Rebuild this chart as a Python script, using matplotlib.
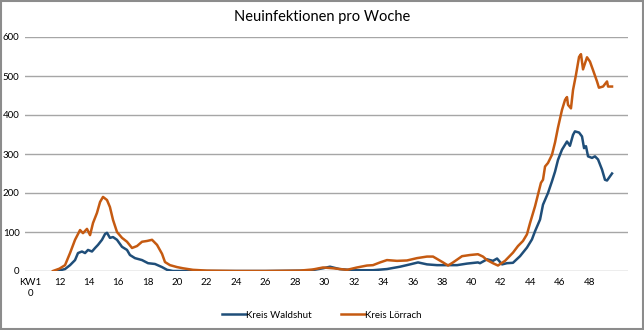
import numpy as np
import matplotlib
matplotlib.use("Agg")
import matplotlib.pyplot as plt
from matplotlib.patches import Rectangle

plt.rcParams["font.family"] = ["Lato", "DejaVu Sans"]

# calendar week positions and weekly new infections
kw_loerrach = [11.56, 12.0, 12.38, 12.72, 13.06, 13.40, 13.60, 13.87, 14.08, 14.28,
               14.55, 14.76, 14.96, 15.23, 15.43, 15.64, 15.91, 16.25, 16.59, 16.93,
               17.27, 17.61, 17.95, 18.29, 18.63, 18.97, 19.17, 19.51, 19.99, 20.39,
               21.07, 22.02, 24.0, 26.0, 28.34, 29.23, 29.9, 30.58, 31.54, 32.21,
               32.89, 33.3, 33.78, 34.25, 34.93, 35.61, 36.29, 36.97, 37.38, 38.06,
               38.4, 38.74, 39.35, 39.89, 40.43, 40.77, 41.05, 41.45, 41.79, 42.27,
               42.81, 43.15, 43.49, 43.76, 43.97, 44.31, 44.51, 44.71, 44.85, 44.99,
               45.19, 45.46, 45.67, 45.87, 46.14, 46.35, 46.48, 46.55, 46.75, 46.89,
               47.09, 47.3, 47.43, 47.57, 47.7, 47.84, 48.04, 48.25, 48.52, 48.65,
               48.93, 49.2, 49.27, 49.54]
loerrach = [0, 6, 15, 46, 80, 105, 97, 108, 92, 123,
            149, 177, 190, 182, 164, 131, 100, 85, 75, 59,
            64, 75, 77, 80, 67, 44, 23, 15, 10, 7,
            3, 1, 0, 0, 1, 4, 9, 7, 3, 9,
            14, 15, 22, 28, 26, 27, 33, 37, 37, 22,
            14, 22, 38, 41, 43, 37, 28, 20, 14, 26,
            47, 64, 77, 94, 123, 166, 196, 226, 234, 268,
            277, 298, 330, 368, 413, 439, 446, 426, 417, 464,
            503, 549, 556, 517, 532, 548, 537, 515, 486, 470,
            473, 486, 473, 473]

kw_waldshut = [11.83, 12.38, 12.72, 13.06, 13.26, 13.53, 13.74, 13.94, 14.21, 14.42,
               14.62, 14.89, 15.1, 15.23, 15.43, 15.64, 15.91, 16.25, 16.59, 16.79,
               17.13, 17.61, 18.02, 18.49, 18.97, 19.31, 19.71, 22.0, 26.0, 29.0,
               29.9, 30.38, 31.02, 31.94, 33.3, 34.25, 35.14, 35.82, 36.36, 36.97,
               37.65, 38.33, 39.01, 39.69, 40.43, 40.57, 41.05, 41.45, 41.73, 42.07,
               42.4, 42.81, 43.29, 43.76, 44.1, 44.31, 44.65, 44.85, 45.19, 45.46,
               45.67, 45.87, 46.14, 46.48, 46.68, 46.89, 47.02, 47.3, 47.5, 47.64,
               47.77, 47.91, 48.18, 48.38, 48.59, 48.86, 49.06, 49.2, 49.54]
waldshut = [0, 5, 15, 28, 46, 50, 46, 54, 50, 59,
            67, 80, 95, 98, 85, 87, 80, 62, 54, 41,
            33, 28, 20, 18, 10, 3, 0, 0, 0, 1,
            7, 11, 5, 2, 2, 5, 11, 17, 22, 17,
            15, 15, 15, 19, 22, 20, 30, 26, 32, 17,
            20, 21, 38, 60, 81, 102, 132, 170, 200, 230,
            255, 285, 311, 332, 321, 349, 358, 355, 345, 315,
            320, 294, 290, 294, 286, 260, 234, 232, 250]

kw_ticks = list(range(10, 49, 2))
kw_labels = ["KW1\n0"] + [str(k) for k in kw_ticks[1:]]

blue = "#1f4e79"
orange = "#c55a11"

fig = plt.figure(figsize=(6.44, 3.30), dpi=100)
ax = fig.add_axes([25 / 644, 1 - 271 / 330, 603 / 644, 234 / 330])

ax.plot(kw_waldshut, waldshut, color=blue, lw=1.8, label="Kreis Waldshut")
ax.plot(kw_loerrach, loerrach, color=orange, lw=1.8, label="Kreis Lörrach")

ax.set_xlim(10 - 5 / 14.72, 10 + 598 / 14.72)
ax.set_ylim(0, 600)
ax.set_yticks(range(0, 601, 100))
ax.set_xticks(kw_ticks)
ax.set_xticklabels(kw_labels, fontsize=7, va="top", linespacing=1.3)
ax.tick_params(axis="y", labelsize=7, length=0, pad=4)
ax.tick_params(axis="x", length=0, pad=5)
ax.yaxis.grid(True, color="#a6a6a6", lw=1)
ax.set_axisbelow(True)
for s in ax.spines.values():
    s.set_visible(False)

fig.text(0.5, 1 - 17 / 330, "Neuinfektionen pro Woche", ha="center", va="center", fontsize=10.5)
fig.legend(loc="center", bbox_to_anchor=(0.5, 1 - 315 / 330), ncol=2, frameon=False,
           fontsize=7, handlelength=2.5, handletextpad=0.0, columnspacing=3)

# gray picture frame
fig.patches.append(Rectangle((0.002, 0.003), 0.996, 0.994, transform=fig.transFigure,
                             fill=False, edgecolor="#8c8c8c", lw=1.5))

fig.savefig("out.png", dpi=100)
